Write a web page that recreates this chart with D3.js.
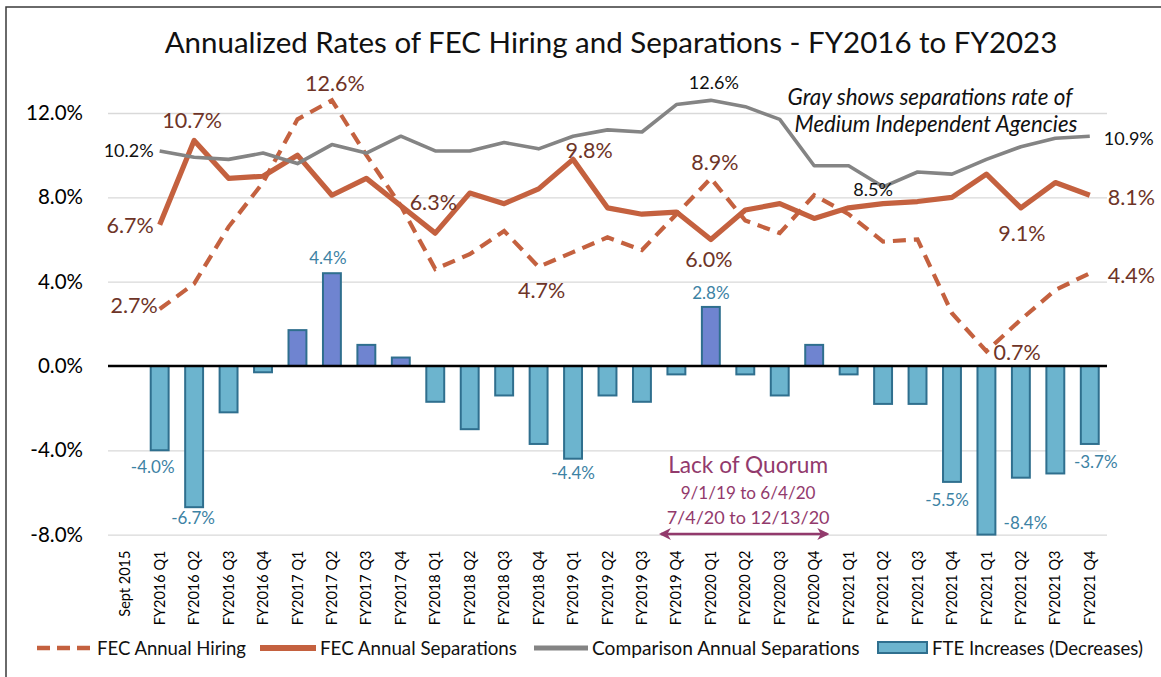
<!DOCTYPE html>
<html><head><meta charset="utf-8">
<script src="https://cdn.jsdelivr.net/npm/d3@7"></script>
<style>
body{margin:0;background:#fff;}
svg{display:block;font-family:Lato,"Open Sans",sans-serif;}
</style></head><body>
<svg id="chart" width="1161" height="677"></svg>
<script>
// ---------- DATA ----------
const categories = ["Sept 2015",
  "FY2016 Q1","FY2016 Q2","FY2016 Q3","FY2016 Q4",
  "FY2017 Q1","FY2017 Q2","FY2017 Q3","FY2017 Q4",
  "FY2018 Q1","FY2018 Q2","FY2018 Q3","FY2018 Q4",
  "FY2019 Q1","FY2019 Q2","FY2019 Q3","FY2019 Q4",
  "FY2020 Q1","FY2020 Q2","FY2020 Q3","FY2020 Q4",
  "FY2021 Q1","FY2021 Q2","FY2021 Q3","FY2021 Q4",
  "FY2021 Q1","FY2021 Q2","FY2021 Q3","FY2021 Q4"];
const fteChange = [null,
  -4.0,-6.7,-2.2,-0.3,
  1.7,4.4,1.0,0.4,
  -1.7,-3.0,-1.4,-3.7,
  -4.4,-1.4,-1.7,-0.4,
  2.8,-0.4,-1.4,1.0,
  -0.4,-1.8,-1.8,-5.5,
  -8.4,-5.3,-5.1,-3.7];
const fecHiring = [null,
  2.7,3.9,6.6,8.7,
  11.7,12.6,10.0,7.6,
  4.6,5.3,6.4,4.7,
  5.4,6.1,5.5,7.2,
  8.9,6.9,6.3,8.1,
  7.2,5.9,6.0,2.5,
  0.7,2.2,3.6,4.4];
const fecSeparations = [null,
  6.7,10.7,8.9,9.0,
  10.0,8.1,8.9,7.6,
  6.3,8.2,7.7,8.4,
  9.8,7.5,7.2,7.3,
  6.0,7.4,7.7,7.0,
  7.5,7.7,7.8,8.0,
  9.1,7.5,8.7,8.1];
const comparisonSeparations = [null,
  10.2,9.9,9.8,10.1,
  9.6,10.5,10.1,10.9,
  10.2,10.2,10.6,10.3,
  10.9,11.2,11.1,12.4,
  12.6,12.3,11.7,9.5,
  9.5,8.5,9.2,9.1,
  9.8,10.4,10.8,10.9];
const yTicks = [-8,-4,0,4,8,12];
const titleText = "Annualized Rates of FEC Hiring and Separations - FY2016 to FY2023";
const legendLabels = ["FEC Annual Hiring","FEC Annual Separations","Comparison Annual Separations","FTE Increases (Decreases)"];
const noteLines = ["Gray shows separations rate of","Medium Independent Agencies"];
const quorumLines = ["Lack of Quorum","9/1/19 to 6/4/20","7/4/20 to 12/13/20"];
const quorumSpan = [15.55, 20.38]; // in category units
// data labels: category index + text
const hiringLabels = [{i:1,t:"2.7%"},{i:6,t:"12.6%"},{i:12,t:"4.7%"},{i:17,t:"8.9%"},{i:25,t:"0.7%"},{i:28,t:"4.4%"}];
const separationLabels = [{i:1,t:"6.7%"},{i:2,t:"10.7%"},{i:9,t:"6.3%"},{i:13,t:"9.8%"},{i:17,t:"6.0%"},{i:26,t:"9.1%"},{i:28,t:"8.1%"}];
const comparisonLabels = [{i:1,t:"10.2%"},{i:17,t:"12.6%"},{i:22,t:"8.5%"},{i:28,t:"10.9%"}];
const fteLabels = [{i:1,t:"-4.0%"},{i:2,t:"-6.7%"},{i:6,t:"4.4%"},{i:13,t:"-4.4%"},{i:17,t:"2.8%"},{i:24,t:"-5.5%"},{i:25,t:"-8.4%"},{i:28,t:"-3.7%"}];

// ---------- LAYOUT / STYLE ----------
const C = {orange:"#C4613F", brown:"#6E3427", gray:"#848484", barNeg:"#6CB4CE", barPos:"#6F84D0",
           barStroke:"#2F6F8E", blueText:"#3C82A4", purple:"#923A6C", grid:"#D9D9D9"};
const labelPos = { // dx, dy, anchor
  hiring:{1:[-2,-4,"end"],6:[3,-17,"middle"],12:[3,23,"middle"],17:[4,-16,"middle"],25:[7,1,"start"],28:[18,2,"start"]},
  sep:{1:[-6,1,"end"],2:[-2,-20,"middle"],9:[-2,-31,"middle"],13:[16,-9,"middle"],17:[-2,20,"middle"],26:[1,25,"middle"],28:[18,2,"start"]},
  comp:{1:[-6,0,"end"],17:[3,-18,"middle"],22:[-10,3,"middle"],28:[14,2,"start"]},
  fte:{1:[-7,17],2:[-1,11],6:[-4,-15],13:[0,14],17:[0,-14],24:[-5,18],25:[39,-12],28:[6,18]}
};

const svg = d3.select("#chart");
const plot = {left:108,right:1107,top:113,bottom:534.6};
const x = d3.scaleBand().domain(d3.range(categories.length)).range([plot.left,plot.right])
  .paddingInner(0.48).paddingOuter(0.24);
const bw = x.bandwidth(), step = x.step();
const xc = i => x(i) + bw/2;
const xAt = t => x(0) + bw/2 + t*step;
const y = d3.scaleLinear().domain([yTicks[0], yTicks[yTicks.length-1]]).range([plot.bottom, plot.top]);
const fmtPct = v => (v<0?"-":"") + Math.abs(v).toFixed(1) + "%";

function fit(sel, target){
  const w = sel.node().getComputedTextLength();
  const fs = parseFloat(sel.attr("font-size"));
  sel.attr("font-size", fs*target/w);
}

// border
svg.append("rect").attr("width",1161).attr("height",677).attr("fill","#fff");
svg.append("path").attr("d","M6,677 L6,7 L1161,7").attr("fill","none").attr("stroke","#3a3a3a").attr("stroke-width",1.5);

// title
const title = svg.append("text").attr("x",611).attr("y",53).attr("text-anchor","middle")
  .attr("font-size",29).attr("fill","#111").text(titleText);
fit(title, 893);

// gridlines
const grid = svg.append("g").attr("transform",`translate(${plot.left},0)`)
  .call(d3.axisLeft(y).tickValues(yTicks).tickSize(-(plot.right-plot.left)).tickFormat(""));
grid.select(".domain").remove();
grid.selectAll("line").attr("stroke",C.grid).attr("stroke-width",1.3);

// y labels
const yAx = svg.append("g").attr("transform",`translate(${plot.left},0)`)
  .call(d3.axisLeft(y).tickValues(yTicks).tickSize(0).tickPadding(25).tickFormat(fmtPct));
yAx.select(".domain").remove();
yAx.selectAll("text").attr("font-size",20.5).attr("fill","#000").attr("font-family","Lato");

// x labels
const xAx = svg.append("g").attr("transform",`translate(0,${plot.bottom})`)
  .call(d3.axisBottom(x).tickSize(0).tickFormat(i => categories[i]));
xAx.select(".domain").remove();
xAx.selectAll("text").attr("font-size",14.5).attr("fill","#000").attr("font-family","Lato")
  .attr("text-anchor","end").attr("transform","rotate(-90)")
  .attr("x",-16).attr("y",0).attr("dy","0.35em");

// bars
const barData = fteChange.map((v,i)=>({i,v})).filter(d=>d.v!==null);
const clampV = v => Math.max(y.domain()[0], Math.min(y.domain()[1], v));
svg.append("g").selectAll("rect").data(barData).join("rect")
  .attr("x",d=>x(d.i)).attr("width",bw)
  .attr("y",d=>y(Math.max(0,clampV(d.v))))
  .attr("height",d=>Math.abs(y(clampV(d.v))-y(0)))
  .attr("fill",d=>d.v>=0?C.barPos:C.barNeg)
  .attr("stroke",C.barStroke).attr("stroke-width",2);

// zero line
svg.append("line").attr("x1",plot.left).attr("x2",plot.right).attr("y1",y(0)).attr("y2",y(0))
  .attr("stroke","#000").attr("stroke-width",2.6);

// lines
const lineGen = d3.line().defined(d=>d.v!==null).x(d=>xc(d.i)).y(d=>y(d.v));
const toPts = arr => arr.map((v,i)=>({i,v}));
svg.append("path").attr("d",lineGen(toPts(fecHiring))).attr("fill","none")
  .attr("stroke",C.orange).attr("stroke-width",4.2).attr("stroke-dasharray","13,8");
svg.append("path").attr("d",lineGen(toPts(fecSeparations))).attr("fill","none")
  .attr("stroke",C.orange).attr("stroke-width",5.2).attr("stroke-linejoin","round");
svg.append("path").attr("d",lineGen(toPts(comparisonSeparations))).attr("fill","none")
  .attr("stroke",C.gray).attr("stroke-width",3.6).attr("stroke-linejoin","round");

// data labels
function lineLabels(list, series, key, color, size){
  const g = svg.append("g");
  list.forEach(d=>{
    const p = labelPos[key][d.i];
    g.append("text").attr("x",xc(d.i)+p[0]).attr("y",y(series[d.i])+p[1])
      .attr("dy","0.36em").attr("text-anchor",p[2]).attr("font-size",size).attr("fill",color).text(d.t);
  });
}
lineLabels(hiringLabels, fecHiring, "hiring", C.brown, 21.5);
lineLabels(separationLabels, fecSeparations, "sep", C.brown, 21.5);
lineLabels(comparisonLabels, comparisonSeparations, "comp", "#111", 18);
{
  const g = svg.append("g");
  fteLabels.forEach(d=>{
    const p = labelPos.fte[d.i];
    g.append("text").attr("x",xc(d.i)+p[0]).attr("y",y(clampV(fteChange[d.i]))+p[1])
      .attr("dy","0.36em").attr("text-anchor","middle").attr("font-size",17).attr("fill",C.blueText).text(d.t);
  });
}

// note
const noteX = [930,936], noteY = [97,124], noteW = [285,283];
noteLines.forEach((t,k)=>{
  const tx = svg.append("text").attr("x",noteX[k]).attr("y",noteY[k]).attr("dy","0.36em")
    .attr("text-anchor","middle").attr("font-size",20).attr("font-style","italic").attr("fill","#111").text(t);
  fit(tx, noteW[k]);
});

// quorum annotation
const qx = (xAt(quorumSpan[0])+xAt(quorumSpan[1]))/2;
const qY = [465,493,518], qW = [160,135,163];
quorumLines.forEach((t,k)=>{
  const tx = svg.append("text").attr("x",qx+4).attr("y",qY[k]).attr("dy","0.36em")
    .attr("text-anchor","middle").attr("font-size",k===0?22:18).attr("fill",C.purple).text(t);
  fit(tx, qW[k]);
});
const defs = svg.append("defs");
defs.append("marker").attr("id","ah").attr("viewBox","0 0 12 12").attr("refX",10).attr("refY",6)
  .attr("markerWidth",12).attr("markerHeight",12).attr("markerUnits","userSpaceOnUse").attr("orient","auto-start-reverse")
  .append("path").attr("d","M0,0 L12,6 L0,12 L3.5,6 Z").attr("fill",C.purple);
svg.append("line").attr("x1",xAt(quorumSpan[0])).attr("x2",xAt(quorumSpan[1]))
  .attr("y1",534).attr("y2",534).attr("stroke",C.purple).attr("stroke-width",2.6)
  .attr("marker-start","url(#ah)").attr("marker-end","url(#ah)");

// legend
const lg = svg.append("g");
const ly = 648;
lg.append("line").attr("x1",37).attr("x2",93).attr("y1",ly).attr("y2",ly).attr("stroke",C.orange)
  .attr("stroke-width",4.5).attr("stroke-dasharray","13,7");
lg.append("line").attr("x1",260).attr("x2",316).attr("y1",ly).attr("y2",ly).attr("stroke",C.orange).attr("stroke-width",6);
lg.append("line").attr("x1",534).attr("x2",588).attr("y1",ly).attr("y2",ly).attr("stroke",C.gray).attr("stroke-width",5);
lg.append("rect").attr("x",878).attr("y",642).attr("width",49).attr("height",11)
  .attr("fill",C.barNeg).attr("stroke",C.barStroke).attr("stroke-width",2);
const legX = [97,320,592,932], legW = [149,197,268,211];
legendLabels.forEach((t,k)=>{
  const tx = lg.append("text").attr("x",legX[k]).attr("y",ly).attr("dy","0.36em")
    .attr("font-size",18).attr("fill","#111").text(t);
  fit(tx, legW[k]);
});
</script>
</body></html>
